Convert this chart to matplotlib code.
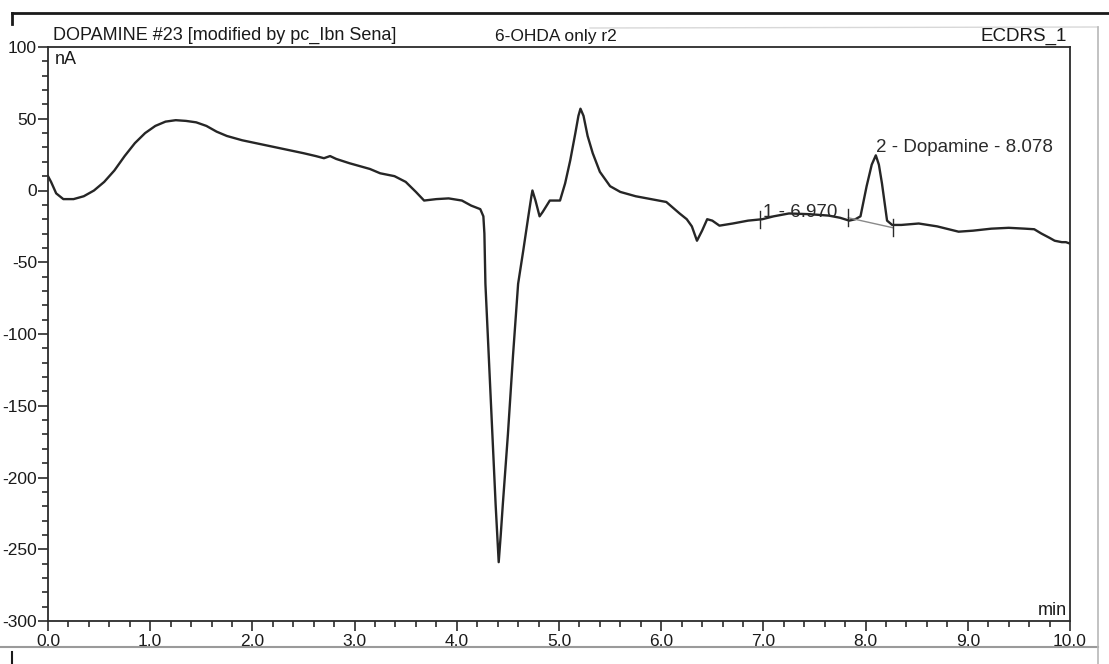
import matplotlib
matplotlib.use("Agg")
import matplotlib.pyplot as plt
from matplotlib.lines import Line2D
from matplotlib.ticker import MultipleLocator

plt.rcParams['font.family'] = ['Liberation Sans', 'DejaVu Sans']
plt.rcParams['axes.unicode_minus'] = False

# retention time (min) and detector signal (nA)
time_min = [0.00, 0.03, 0.08, 0.15, 0.25, 0.35, 0.45, 0.55, 0.65, 0.75, 0.85, 0.95,
            1.05, 1.15, 1.25, 1.35, 1.45, 1.55, 1.65, 1.75, 1.90, 2.10, 2.30, 2.50,
            2.62, 2.70, 2.76, 2.82, 2.95, 3.05, 3.15, 3.25, 3.39, 3.50, 3.60, 3.68,
            3.80, 3.92, 4.05, 4.14, 4.23, 4.26, 4.27, 4.28, 4.33, 4.38, 4.41, 4.43,
            4.45, 4.50, 4.55, 4.60, 4.65, 4.70, 4.73, 4.74, 4.77, 4.81, 4.84, 4.91,
            5.01, 5.06, 5.11, 5.16, 5.19, 5.21, 5.24, 5.28, 5.33, 5.40, 5.50, 5.60,
            5.75, 5.90, 6.05, 6.18, 6.25, 6.30, 6.35, 6.40, 6.45, 6.50, 6.57, 6.70,
            6.85, 6.99, 7.10, 7.25, 7.45, 7.64, 7.75, 7.84, 7.90, 7.95, 8.01, 8.06,
            8.10, 8.13, 8.16, 8.21, 8.26, 8.35, 8.52, 8.70, 8.91, 9.05, 9.23, 9.40,
            9.56, 9.65, 9.72, 9.80, 9.85, 9.92, 9.96, 10.0]
signal_na = [10, 6, -2, -6, -6, -4, 0, 6, 14, 24, 33, 40,
             45, 48, 49, 48.5, 47.5, 45, 41, 38, 35, 32, 29, 26,
             24, 22.5, 24, 22, 19, 17, 15, 12, 10, 6, -1, -7,
             -6, -5.5, -7, -10.5, -13, -18, -30, -65, -142, -219, -259, -240,
             -219, -170, -115, -65, -42, -18, -4, 0, -7, -18, -15, -7,
             -7, 5, 21, 40, 52, 57, 52, 38, 26, 13, 3, -1,
             -4, -6, -8, -16, -20, -25, -35, -28, -20, -21, -24.5, -23,
             -21, -20, -18, -16, -16.5, -17.5, -19, -21, -20, -18, 3, 18,
             24.5, 18, 5, -21, -24, -24, -23, -25, -28.7, -28, -26.6, -26,
             -26.6, -27, -30, -33, -35, -36, -36, -37]

peak_labels = ['1 - 6.970', '2 - Dopamine - 8.078']
peak_times = [6.970, 8.078]
# integration marks and baseline of peak 2
mark_times = [6.97, 7.83, 8.27]
mark_levels = [-20, -19, -26]

W, H = 1109, 664
fig = plt.figure(figsize=(W / 100, H / 100), dpi=100)
ax = fig.add_axes([48 / W, 1 - 621 / H, (1070 - 48) / W, (621 - 47) / H])

ax.plot(time_min, signal_na, color='#262626', lw=1.7, solid_joinstyle='round')

# baseline under dopamine peak and the integration tick marks
ax.plot(mark_times[1:], mark_levels[1:], color='#8a8a8a', lw=1.0)
for mt, ml in zip(mark_times, mark_levels):
    ax.plot([mt, mt], [ml - 6, ml + 6], color='#2b2b2b', lw=1.0)

ax.text(peak_times[0] + 0.03, -18.5, peak_labels[0], fontsize=13.5, color='#2b2b2b')
ax.text(peak_times[1] + 0.02, 27, peak_labels[1], fontsize=13.5, color='#2b2b2b')

ax.set_xlim(0, 10)
ax.set_ylim(-300, 100)
ax.xaxis.set_major_locator(MultipleLocator(1))
ax.xaxis.set_minor_locator(MultipleLocator(0.2))
ax.yaxis.set_major_locator(MultipleLocator(50))
ax.yaxis.set_minor_locator(MultipleLocator(10))
ax.set_xticks(ax.get_xticks())
ax.set_xticklabels([f'{v:.1f}' for v in ax.get_xticks()])
ax.set_xlim(0, 10)
ax.tick_params(axis='both', which='major', length=7, width=1.2, labelsize=12.5,
               direction='out', color='#2b2b2b', labelcolor='#1a1a1a')
ax.tick_params(axis='both', which='minor', length=4, width=1.2,
               direction='out', color='#2b2b2b')
ax.tick_params(axis='x', pad=2)
ax.tick_params(axis='y', pad=1)
for sp in ax.spines.values():
    sp.set_color('#2b2b2b')
    sp.set_linewidth(1.3)

# header and axis unit texts
fig.text(53 / W, 1 - 40 / H, 'DOPAMINE #23 [modified by pc_Ibn Sena]', fontsize=13,
         va='baseline', color='#1a1a1a')
fig.text(495 / W, 1 - 41 / H, '6-OHDA only r2', fontsize=12.5, va='baseline',
         color='#1a1a1a')
fig.text(1067 / W, 1 - 41 / H, 'ECDRS_1', fontsize=13.5, va='baseline', ha='right',
         color='#1a1a1a')
ax.text(0.007, 0.993, 'nA', transform=ax.transAxes, fontsize=13, va='top',
        color='#1a1a1a')
ax.text(0.997, 0.004, 'min', transform=ax.transAxes, fontsize=13, va='bottom',
        ha='right', color='#1a1a1a')


# outer page frame
def fline(x0, y0, x1, y1, c='#1a1a1a', lw=2.0):
    fig.add_artist(Line2D([x0 / W, x1 / W], [1 - y0 / H, 1 - y1 / H], color=c, lw=lw))


fline(12, 13, 1109, 13)
fline(12, 13, 12, 24)
fline(590, 28, 1098, 27, c='#d8d8d8', lw=1.0)
fline(0, 647, 1098, 647, c='#9a9a9a', lw=1.5)
fline(12, 652, 12, 664, c='#1a1a1a', lw=1.5)
fline(1098, 27, 1098, 664, c='#b8b8b8', lw=1.2)

fig.savefig('out.png', dpi=100)
